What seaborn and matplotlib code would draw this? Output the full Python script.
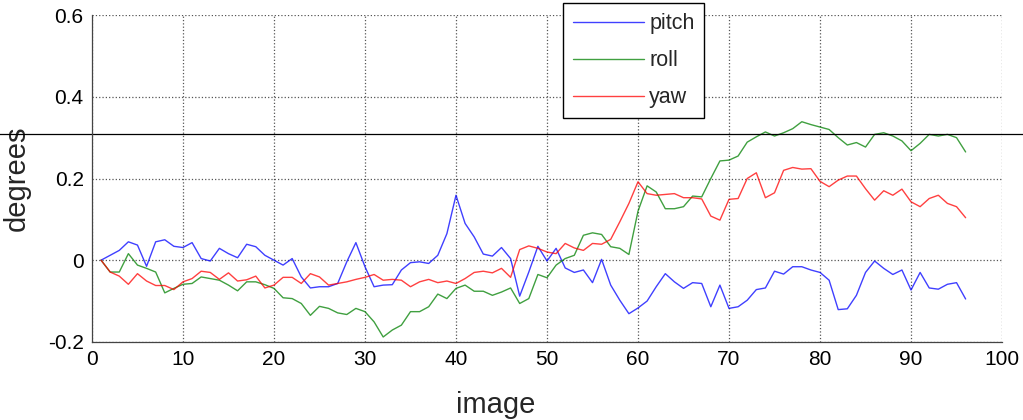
# Pitch / roll / yaw drift per image
import numpy as np
import pandas as pd
import matplotlib
matplotlib.use('Agg')
import matplotlib.pyplot as plt
import seaborn as sns

image = list(range(1, 97))

pitch = [0, 0.012, 0.024, 0.045, 0.037, -0.015, 0.045, 0.05, 0.034, 0.031,
         0.043, 0.004, -0.002, 0.029, 0.016, 0.006, 0.039, 0.033, 0.012, 0.0,
         -0.012, 0.004, -0.041, -0.068, -0.065, -0.065, -0.057, -0.004, 0.043, -0.016,
         -0.065, -0.061, -0.06, -0.024, -0.006, -0.004, -0.008, 0.012, 0.065, 0.159,
         0.09, 0.057, 0.015, 0.01, 0.031, 0.004, -0.088, -0.029, 0.034, -0.002,
         0.029, -0.019, -0.03, -0.024, -0.055, 0.002, -0.061, -0.098, -0.131, -0.117,
         -0.1, -0.065, -0.033, -0.053, -0.069, -0.055, -0.057, -0.114, -0.061, -0.118,
         -0.114, -0.098, -0.072, -0.068, -0.027, -0.034, -0.016, -0.016, -0.024, -0.03,
         -0.049, -0.121, -0.119, -0.086, -0.03, -0.002, -0.02, -0.035, -0.024, -0.073,
         -0.03, -0.068, -0.071, -0.059, -0.055, -0.095]

roll = [0, -0.029, -0.029, 0.016, -0.012, -0.02, -0.029, -0.08, -0.069, -0.059,
        -0.057, -0.041, -0.045, -0.049, -0.061, -0.075, -0.053, -0.053, -0.06, -0.069,
        -0.092, -0.094, -0.106, -0.135, -0.113, -0.118, -0.129, -0.133, -0.118, -0.126,
        -0.151, -0.188, -0.171, -0.159, -0.126, -0.126, -0.114, -0.083, -0.094, -0.069,
        -0.061, -0.076, -0.076, -0.086, -0.078, -0.068, -0.106, -0.094, -0.035, -0.043,
        -0.012, 0.004, 0.012, 0.061, 0.067, 0.063, 0.033, 0.029, 0.014, 0.12,
        0.182, 0.167, 0.126, 0.126, 0.131, 0.157, 0.155, 0.2, 0.243, 0.245,
        0.255, 0.289, 0.302, 0.314, 0.304, 0.312, 0.322, 0.339, 0.332, 0.326,
        0.32, 0.3, 0.282, 0.288, 0.277, 0.308, 0.312, 0.304, 0.292, 0.268,
        0.286, 0.308, 0.304, 0.308, 0.3, 0.265]

yaw = [0, -0.029, -0.039, -0.059, -0.033, -0.051, -0.062, -0.062, -0.072, -0.053,
       -0.045, -0.027, -0.03, -0.047, -0.031, -0.051, -0.048, -0.039, -0.068, -0.061,
       -0.042, -0.042, -0.057, -0.033, -0.041, -0.061, -0.057, -0.053, -0.047, -0.042,
       -0.035, -0.049, -0.047, -0.049, -0.065, -0.053, -0.047, -0.055, -0.051, -0.057,
       -0.045, -0.03, -0.027, -0.031, -0.02, -0.042, 0.026, 0.035, 0.029, 0.02,
       0.016, 0.041, 0.03, 0.024, 0.041, 0.039, 0.051, 0.094, 0.139, 0.192,
       0.163, 0.159, 0.161, 0.163, 0.153, 0.153, 0.15, 0.108, 0.098, 0.149,
       0.151, 0.2, 0.214, 0.153, 0.165, 0.22, 0.227, 0.223, 0.224, 0.193,
       0.18, 0.196, 0.206, 0.206, 0.175, 0.147, 0.17, 0.159, 0.174, 0.143,
       0.131, 0.151, 0.159, 0.139, 0.131, 0.104]

series_names = ['pitch', 'roll', 'yaw']
series_colors = {'pitch': '#0000ff', 'roll': '#008000', 'yaw': '#ff0000'}
ref_level = 0.31

x_ticks = list(range(0, 101, 10))
y_ticks = [-0.2, 0, 0.2, 0.4, 0.6]
y_tick_labels = ['-0.2', '0', '0.2', '0.4', '0.6']

df = pd.DataFrame({'image': image * 3,
                   'degrees': pitch + roll + yaw,
                   'series': np.repeat(series_names, len(image))})

sns.set_style('white')
plt.rcParams['font.family'] = ['Liberation Sans', 'DejaVu Sans']

fig = plt.figure(figsize=(10.23, 4.2), dpi=100)
ax = fig.add_axes([0.0899, 0.186, 0.8896, 0.778])

sns.lineplot(data=df, x='image', y='degrees', hue='series', palette=series_colors,
             linewidth=1.0, alpha=0.75, ax=ax)

ax.set_xlim(0, 100)
ax.set_ylim(-0.2, 0.6)
ax.set_xticks(x_ticks)
ax.set_yticks(y_ticks)
ax.set_yticklabels(y_tick_labels)
ax.tick_params(direction='in', length=5, width=0.8, color='#444444',
               labelsize=15, labelcolor='black', pad=6)
ax.grid(True, linestyle=':', color='#555555', linewidth=0.9)

for side in ['top', 'right']:
    ax.spines[side].set_visible(False)
for side in ['left', 'bottom']:
    ax.spines[side].set_color('#444444')
    ax.spines[side].set_linewidth(0.9)

ax.set_xlabel('image', fontsize=21)
ax.xaxis.set_label_coords(0.444, -0.15)
ax.set_ylabel('degrees', fontsize=21, labelpad=12)

# reference line running across the whole figure
ax.axhline(ref_level, xmin=-0.11, xmax=1.05, clip_on=False, color='black', linewidth=0.9)

handles, labels = ax.get_legend_handles_labels()
leg = ax.legend(handles, labels, loc='lower left', bbox_to_anchor=(0.5176, 0.685),
                fontsize=15.5, handlelength=3.3, handletextpad=0.25, labelspacing=0.75,
                borderaxespad=0, fancybox=False, framealpha=1, edgecolor='black',
                borderpad=0.45)
leg.get_frame().set_linewidth(1.0)

fig.savefig('out.png', dpi=100)
